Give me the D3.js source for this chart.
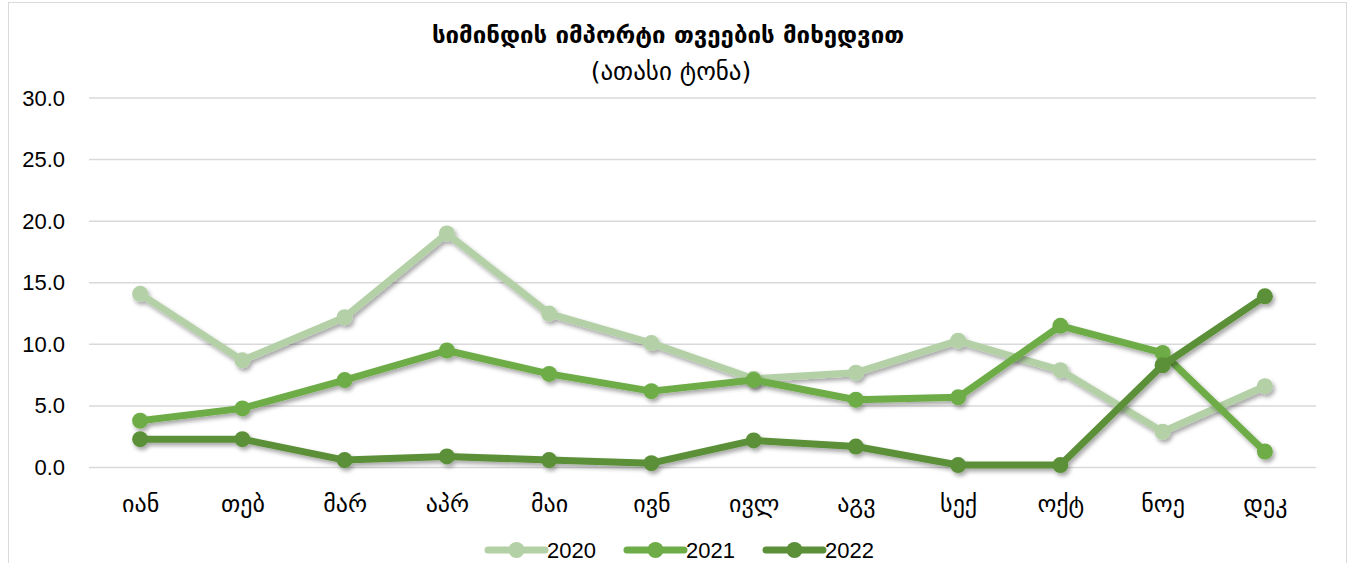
<!doctype html>
<html>
<head>
<meta charset="utf-8">
<script src="https://cdnjs.cloudflare.com/ajax/libs/d3/7.8.5/d3.min.js"></script>
<style>
  body { margin: 0; background: #fff; }
  svg { display: block; }
</style>
</head>
<body>
<div id="chart"></div>
<script>
// months (x categories)
const months = ["იან", "თებ", "მარ", "აპრ", "მაი", "ივნ", "ივლ", "აგვ", "სექ", "ოქტ", "ნოე", "დეკ"];
const years = ["2020", "2021", "2022"];
const v2020 = [14.1, 8.7, 12.2, 19.0, 12.5, 10.1, 7.2, 7.7, 10.3, 7.9, 2.9, 6.6];
const v2021 = [3.8, 4.8, 7.1, 9.5, 7.6, 6.2, 7.1, 5.5, 5.7, 11.5, 9.3, 1.3];
const v2022 = [2.3, 2.3, 0.6, 0.9, 0.6, 0.35, 2.2, 1.7, 0.2, 0.2, 8.3, 13.9];
const yTicks = [0, 5, 10, 15, 20, 25, 30];
const colors = ["#b3d0a6", "#6dac46", "#5b9039"];

const W = 1354, H = 563;
const series = [v2020, v2021, v2022];

const svg = d3.select("#chart").append("svg")
  .attr("width", W).attr("height", H);

// drop shadow
const defs = svg.append("defs");
const f = defs.append("filter").attr("id", "shadow")
  .attr("x", "-10%").attr("y", "-10%").attr("width", "120%").attr("height", "120%");
f.append("feDropShadow").attr("dx", 2).attr("dy", 3).attr("stdDeviation", 2)
  .attr("flood-color", "#000").attr("flood-opacity", 0.35);

// chart border
svg.append("rect")
  .attr("x", 8.5).attr("y", 2.5).attr("width", 1338).attr("height", 580)
  .attr("fill", "#fff").attr("stroke", "#d9d9d9");

// title
svg.append("text")
  .attr("x", 668).attr("y", 43)
  .attr("text-anchor", "middle")
  .style("font-family", "'DejaVu Sans', sans-serif")
  .style("font-size", "24px")
  .style("font-weight", "bold")
  .text("სიმინდის იმპორტი თვეების მიხედვით");
svg.append("text")
  .attr("x", 671).attr("y", 80)
  .attr("text-anchor", "middle")
  .style("font-family", "'DejaVu Sans', sans-serif")
  .style("font-size", "25px")
  .text("(ათასი ტონა)");

const x = d3.scalePoint().domain(months).range([89, 1316]).padding(0.5);
const y = d3.scaleLinear().domain([0, 30]).range([467.5, 98]);

// grid
svg.append("g").selectAll("line")
  .data(yTicks).enter().append("line")
  .attr("x1", 89).attr("x2", 1316)
  .attr("y1", d => y(d)).attr("y2", d => y(d))
  .attr("stroke", "#d9d9d9").attr("stroke-width", 1.5);

// y axis
const yAxis = d3.axisLeft(y).tickValues(yTicks).tickFormat(d3.format(".1f")).tickSize(0).tickPadding(0);
const gy = svg.append("g").attr("transform", "translate(65,0)").call(yAxis);
gy.select(".domain").remove();
gy.selectAll("text")
  .style("font-family", "'Liberation Sans', Arial, sans-serif")
  .style("font-size", "22px").attr("fill", "#000");

// x axis
const xAxis = d3.axisBottom(x).tickSize(0).tickPadding(0);
const gx = svg.append("g").attr("transform", "translate(0,0)").call(xAxis);
gx.select(".domain").remove();
gx.selectAll("text")
  .attr("y", 512).attr("dy", 0)
  .style("font-family", "'DejaVu Sans', sans-serif")
  .style("font-size", "24px").attr("fill", "#000");

// lines
const line = d3.line().x((d, i) => x(months[i])).y(d => y(d));
series.forEach(function(s, k) {
  const g = svg.append("g").attr("filter", "url(#shadow)");
  g.append("path").datum(s)
    .attr("d", line)
    .attr("fill", "none")
    .attr("stroke", colors[k])
    .attr("stroke-width", 7)
    .attr("stroke-linejoin", "round")
    .attr("stroke-linecap", "round");
  g.selectAll("circle").data(s).enter().append("circle")
    .attr("cx", (d, i) => x(months[i]))
    .attr("cy", d => y(d))
    .attr("r", 8)
    .attr("fill", colors[k]);
});

// legend
const legX = [488, 627, 766];
const legend = svg.append("g");
years.forEach(function(yr, k) {
  const lg = legend.append("g").attr("transform", "translate(" + legX[k] + ",550)");
  lg.append("line").attr("x1", 0).attr("x2", 57).attr("y1", 0).attr("y2", 0)
    .attr("stroke", colors[k]).attr("stroke-width", 7).attr("stroke-linecap", "round");
  lg.append("circle").attr("cx", 28.5).attr("cy", 0).attr("r", 8).attr("fill", colors[k]);
  lg.append("text").attr("x", 59).attr("y", 8)
    .style("font-family", "'Liberation Sans', Arial, sans-serif")
    .style("font-size", "22px")
    .text(yr);
});
</script>
</body>
</html>
